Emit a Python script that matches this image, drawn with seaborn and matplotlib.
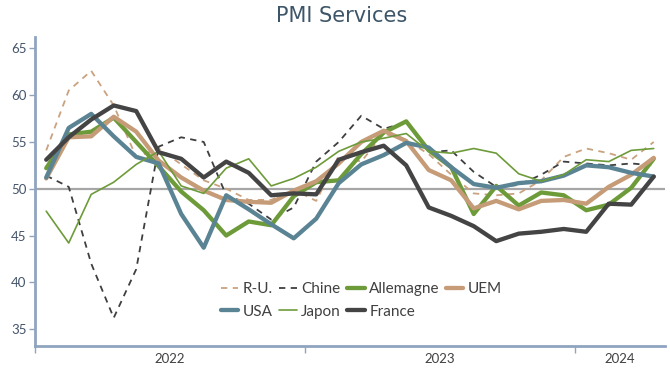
import matplotlib
matplotlib.use("Agg")
import matplotlib.pyplot as plt
import numpy as np
import pandas as pd
import seaborn as sns

# monthly services PMI, Jan 2022 -> Apr 2024
months = pd.date_range("2022-01-01", "2024-04-01", freq="MS")

ru = [54.1, 60.5, 62.6, 58.9, 53.4, 54.3, 52.6, 50.9, 50.0, 48.8, 48.8, 49.9,
      48.7, 53.5, 52.9, 55.9, 55.2, 53.7, 51.5, 49.5, 49.3, 49.5, 50.9, 53.4,
      54.3, 53.8, 53.1, 55.0]
chine = [51.4, 50.2, 42.0, 36.2, 41.4, 54.5, 55.5, 55.0, 49.3, 48.4, 46.7, 48.0,
         52.9, 55.0, 57.8, 56.4, 57.1, 53.9, 54.1, 51.8, 50.2, 50.4, 51.5, 52.9,
         52.7, 52.5, 52.7, 52.5]
allemagne = [52.2, 55.8, 56.1, 57.6, 55.0, 52.4, 49.7, 47.7, 45.0, 46.5, 46.1, 49.2,
             50.7, 50.9, 53.7, 56.0, 57.2, 54.1, 52.3, 47.3, 50.3, 48.2, 49.6, 49.3,
             47.7, 48.3, 50.1, 53.2]
uem = [51.1, 55.5, 55.6, 57.7, 56.1, 53.0, 51.2, 49.8, 48.8, 48.6, 48.5, 49.8,
       50.8, 52.7, 55.0, 56.2, 55.1, 52.0, 50.9, 47.9, 48.7, 47.8, 48.7, 48.8,
       48.4, 50.2, 51.5, 53.3]
usa = [51.2, 56.5, 58.0, 55.6, 53.4, 52.7, 47.3, 43.7, 49.3, 47.8, 46.2, 44.7,
       46.8, 50.6, 52.6, 53.6, 54.9, 54.4, 52.3, 50.5, 50.1, 50.6, 50.8, 51.4,
       52.5, 52.3, 51.7, 51.3]
japon = [47.6, 44.2, 49.4, 50.7, 52.6, 54.0, 50.3, 49.5, 52.2, 53.2, 50.3, 51.1,
         52.3, 54.0, 55.0, 55.4, 55.9, 54.0, 53.8, 54.3, 53.8, 51.6, 50.8, 51.5,
         53.1, 52.9, 54.1, 54.3]
france = [53.1, 55.5, 57.4, 58.9, 58.3, 53.9, 53.2, 51.2, 52.9, 51.7, 49.3, 49.5,
          49.4, 53.1, 53.9, 54.6, 52.5, 48.0, 47.1, 46.0, 44.4, 45.2, 45.4, 45.7,
          45.4, 48.4, 48.3, 51.3]

df = pd.DataFrame({
    "R-U.": ru,
    "Chine": chine,
    "Allemagne": allemagne,
    "UEM": uem,
    "USA": usa,
    "Japon": japon,
    "France": france,
}, index=months)

dash = (0, (3.5, 3))
styles = {
    "R-U.": dict(color="#C9A27F", lw=1.3, ls=dash),
    "Chine": dict(color="#3F3F3F", lw=1.3, ls=dash),
    "Allemagne": dict(color="#6E9B3A", lw=3.1, ls="-"),
    "UEM": dict(color="#C59C77", lw=3.1, ls="-"),
    "USA": dict(color="#5A8494", lw=3.1, ls="-"),
    "Japon": dict(color="#6E9B3A", lw=1.2, ls="-"),
    "France": dict(color="#444444", lw=3.1, ls="-"),
}

sns.set_theme(style="white")
plt.rcParams["font.family"] = ["Lato", "DejaVu Sans"]

axis_col = "#8FA5BF"
pos = np.arange(len(df))

fig = plt.figure(figsize=(6.7, 3.68), dpi=100)
ax = fig.add_axes([0.0522, 0.060, 0.9403, 0.839])

ax.axhline(50, color="#A6A6A6", lw=1.6, zorder=1)
for name in df.columns:
    st = styles[name]
    sns.lineplot(x=pos, y=df[name].values, ax=ax, label=name, legend=False,
                 color=st["color"], lw=st["lw"], linestyle=st["ls"], zorder=2)

ax.set_xlim(-0.5, len(df) - 0.5)
ax.set_ylim(33.2, 66.2)
ax.set_yticks(range(35, 66, 5))
ax.set_xlabel("")
ax.set_ylabel("")

# year boundaries as ticks, year names centred under each block
yrs = df.index.year
bounds = [i - 0.5 for i in range(len(df)) if i == 0 or yrs[i] != yrs[i - 1]]
centres = [pos[yrs == y].mean() for y in sorted(set(yrs))]
ax.set_xticks(bounds)
ax.set_xticklabels([])
ax.set_xticks(centres, minor=True)
ax.set_xticklabels([str(y) for y in sorted(set(yrs))], minor=True)
ax.tick_params(axis="x", which="major", direction="out", length=5, width=1,
               color=axis_col, bottom=True)
ax.tick_params(axis="x", which="minor", length=0, labelsize=9.5,
               labelcolor="#404040", pad=5)
ax.tick_params(axis="y", direction="out", length=4, width=1, color=axis_col,
               labelcolor="#44546A", labelsize=9.5, pad=2, left=True)

ax.grid(False)
ax.spines[["top", "right"]].set_visible(False)
for s in ["left", "bottom"]:
    ax.spines[s].set_color(axis_col)
    ax.spines[s].set_linewidth(2)

# legend reads row by row: R-U., Chine, Allemagne, UEM / USA, Japon, France
handles, labels = ax.get_legend_handles_labels()
order = [0, 4, 1, 5, 2, 6, 3]
ax.legend([handles[i] for i in order], [labels[i] for i in order], ncol=4,
          loc="center", bbox_to_anchor=(0.518, 0.147), frameon=False,
          fontsize=11, handlelength=1.15, columnspacing=0.4, handletextpad=0.3,
          labelspacing=0.55, labelcolor="#404040")

fig.text(0.51, 1 - 16 / 368, "PMI Services", ha="center", va="center",
         fontsize=15, color="#3D5568", family="DejaVu Sans")

fig.savefig("out.png", dpi=100)
